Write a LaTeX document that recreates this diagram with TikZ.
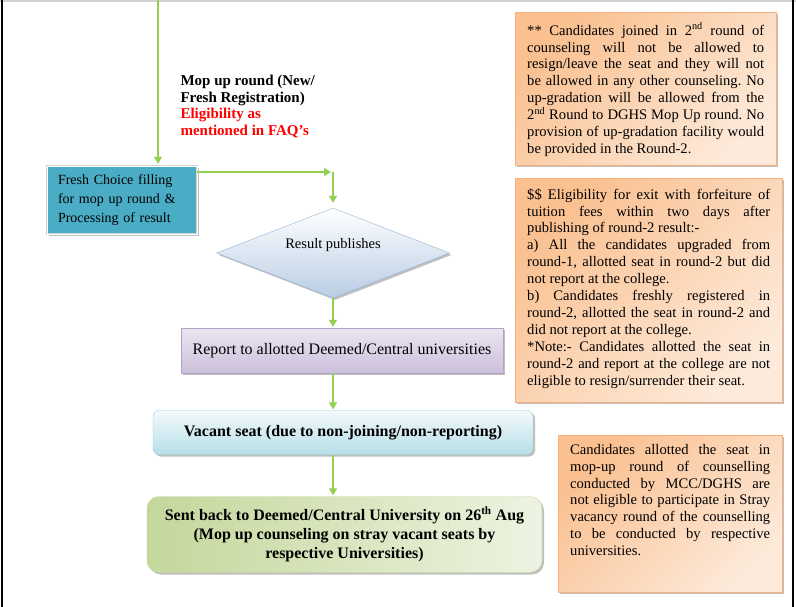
\documentclass[tikz,border=0pt]{standalone}
\usepackage{fontspec}
\setmainfont{Liberation Serif}
\usetikzlibrary{shapes.geometric,shadows,arrows.meta}

\definecolor{arrowgreen}{HTML}{92D050}
\definecolor{freshteal}{HTML}{4BACC6}
\definecolor{noteorange}{HTML}{FAC090}
\definecolor{notelight}{HTML}{FDEADA}
\definecolor{noteedge}{HTML}{F7B07E}
\definecolor{lilac}{HTML}{CCC0DA}
\definecolor{lilaclight}{HTML}{EAE5F1}
\definecolor{lilacedge}{HTML}{B3A2C7}
\definecolor{seatblue}{HTML}{B7DEE8}
\definecolor{seatedge}{HTML}{93CDDD}
\definecolor{sentgreen}{HTML}{C4D79B}
\definecolor{sentlight}{HTML}{EDF3E1}
\definecolor{diambottom}{HTML}{B9CDE5}
\definecolor{diamedge}{HTML}{95B3D7}

\frenchspacing
\newcommand{\fullline}[1]{{\spaceskip=0pt\xspaceskip=0pt\makebox[\hsize][s]{#1}}\\}

\begin{document}
\begin{tikzpicture}[x=1pt,y=-1pt,
  flow/.style={-{Triangle[length=7pt,width=8pt]}, arrowgreen, line width=1.3pt},
  boxshadow/.style={drop shadow={shadow xshift=2pt, shadow yshift=-2pt, fill=black!50, opacity=.5}},
  note/.style={anchor=north west, draw=noteedge, top color=noteorange, bottom color=notelight,
    shading angle=45, align=justify, inner xsep=12pt, inner ysep=4pt,
    font=\fontsize{14.6pt}{16.9pt}\selectfont, boxshadow},
  flowbox/.style={draw, align=center, inner sep=0pt, font=\fontsize{16pt}{19pt}\selectfont, boxshadow}]

\useasboundingbox (0,0) rectangle (796,607);

% page edges
\draw[gray!35, line width=2pt] (0,1) -- (796,1);
\draw[black, line width=1.5pt] (2,0) -- (2,607);
\draw[black, line width=1.5pt] (793,0) -- (793,607);

% main flow
\node[flowbox, fill=freshteal, draw=gray!35, double=white, double distance=0.8pt, align=left,
  text width=128pt, inner xsep=10pt, minimum width=150pt, minimum height=68pt,
  font=\fontsize{14pt}{19pt}\selectfont] (fresh) at (122,200)
  {Fresh Choice filling\\for mop up round \&\\Processing of result};

\node[anchor=north west, align=left, font=\bfseries\fontsize{15pt}{16.5pt}\selectfont] (mop) at (177,72)
  {Mop up round (New/\\Fresh Registration)\\\textcolor{red}{Eligibility as}\\\textcolor{red}{mentioned in FAQ’s}};

\node[flowbox, diamond, aspect=2.6, draw=diamedge, top color=white, bottom color=diambottom,
  minimum width=233pt, minimum height=90pt, font=\fontsize{14.5pt}{17pt}\selectfont] (result) at (333,253)
  {\raisebox{19pt}{Result publishes}};

\node[flowbox, draw=lilacedge, top color=lilaclight, bottom color=lilac,
  minimum width=322pt, minimum height=45pt] (report) at (342,350.5)
  {Report to allotted Deemed/Central universities};

\node[flowbox, rounded corners=6pt, draw=seatedge, top color=seatblue!15, bottom color=seatblue,
  minimum width=380pt, minimum height=44pt, font=\bfseries\fontsize{16pt}{19pt}\selectfont] (vacant) at (343,432.5)
  {Vacant seat (due to non-joining/non-reporting)};

\node[flowbox, rounded corners=12pt, draw=sentgreen, left color=sentgreen, right color=sentlight,
  minimum width=395pt, minimum height=76pt, font=\bfseries\fontsize{16pt}{19pt}\selectfont] (sent) at (344.5,534.5)
  {Sent back to Deemed/Central University on 26\textsuperscript{th} Aug\\(Mop up counseling on stray vacant seats by\\respective Universities)};

\coordinate (top) at (158,0);
\coordinate (turn) at (333,172);

\draw[flow, shorten >=2pt] (top) -- (fresh.north -| top);
\draw[flow, shorten >=2pt] (fresh.east |- turn) -- (turn);
\draw[flow, shorten >=5pt] (turn) -- (result.north);
\draw[flow, shorten >=1pt] (result.south) -- (result.south |- report.north);
\draw[flow, shorten >=1pt] (report.south -| result.south) -- (result.south |- vacant.north);
\draw[flow, shorten >=1pt] (vacant.south -| result.south) -- (result.south |- sent.north);

% side notes
\node[note, text width=237pt, text height=19pt, text depth=126pt] (roundnote) at (515,12)
  {\fullline{** Candidates joined in 2\textsuperscript{nd} round of}
   \fullline{counseling will not be allowed to}
   \fullline{resign/leave the seat and they will not}
   \fullline{be allowed in any other counseling. No}
   \fullline{up-gradation will be allowed from the}
   \fullline{2\textsuperscript{nd} Round to DGHS Mop Up round. No}
   \fullline{provision of up-gradation facility would}
   be provided in the Round-2.};

\node[note, text width=243pt, text height=17pt, text depth=199pt] (exitnote) at (515,178)
  {\fullline{\$\$ Eligibility for exit with forfeiture of}
   \fullline{tuition fees within two days after}
   publishing of round-2 result:-\\
   \fullline{a) All the candidates upgraded from}
   \fullline{round-1, allotted seat in round-2 but did}
   not report at the college.\\
   \fullline{b) Candidates freshly registered in}
   \fullline{round-2, allotted the seat in round-2 and}
   did not report at the college.\\
   \fullline{*Note:- Candidates allotted the seat in}
   \fullline{round-2 and report at the college are not}
   eligible to resign/surrender their seat.};

\node[note, text width=200pt, text height=15pt, text depth=134pt] (straynote) at (558,435)
  {\fullline{Candidates allotted the seat in}
   \fullline{mop-up round of counselling}
   \fullline{conducted by MCC/DGHS are}
   \fullline{not eligible to participate in Stray}
   \fullline{vacancy round of the counselling}
   \fullline{to be conducted by respective}
   universities.};

\end{tikzpicture}
\end{document}
